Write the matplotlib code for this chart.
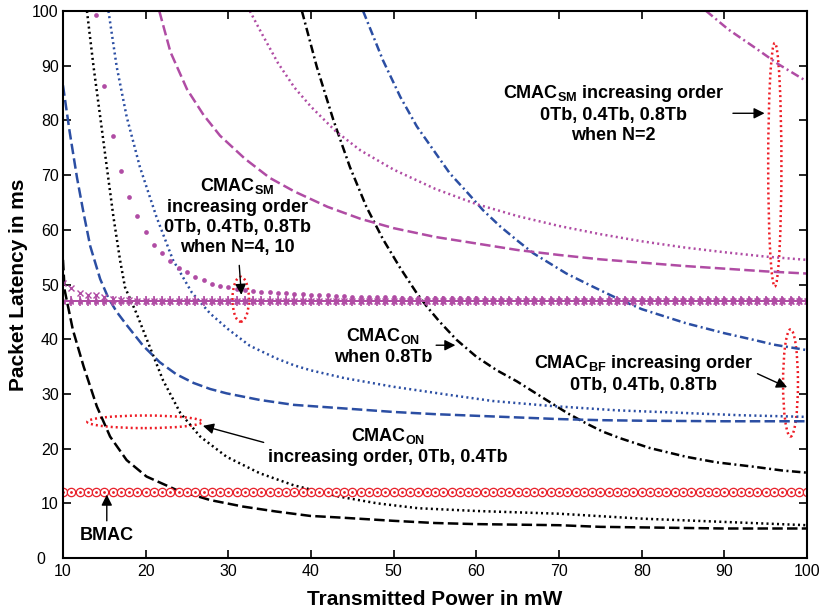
import matplotlib.pyplot as plt
from matplotlib.patches import Ellipse
from matplotlib.transforms import ScaledTranslation

plt.rcParams['font.family'] = ['Liberation Sans', 'DejaVu Sans']
plt.rcParams['mathtext.fontset'] = 'custom'
plt.rcParams['mathtext.rm'] = 'Liberation Sans'
plt.rcParams['mathtext.bf'] = 'Liberation Sans:bold'

MAG = '#b04ca4'
BLUE = '#2b4ea3'
RED = '#e8202a'

# every-unit grid used by the marker series
x_unit = list(range(10, 101))

# BMAC (flat)
bmac_y = [12.0] * len(x_unit)

# CMAC_SM N=4,10 series sitting on ~47
sm_flat_y = [47.0] * len(x_unit)
sm_x_y = [50.2, 49.3, 48.4, 48.1, 48.0, 47.7, 47.4, 47.2, 47.1] + [47.0] * (len(x_unit) - 9)
dots_x = list(range(14, 101))
dots_y = [99.3, 86.3, 77.2, 70.7, 66.0, 62.5, 59.6, 57.3, 55.7, 54.3,
          53.1, 52.2, 51.4, 50.8, 50.1, 49.7, 49.5, 49.2, 49.0, 48.9,
          48.7, 48.6, 48.5, 48.4, 48.3, 48.2, 48.1, 48.0, 48.0, 47.9,
          47.9, 47.8, 47.8, 47.8, 47.7, 47.7, 47.7, 47.6, 47.6, 47.6,
          47.6, 47.5, 47.5, 47.5, 47.5, 47.5, 47.5, 47.4, 47.4, 47.4,
          47.4, 47.4, 47.4, 47.4, 47.4, 47.4, 47.3, 47.3, 47.3, 47.3,
          47.3, 47.3, 47.3, 47.3, 47.3, 47.3, 47.3, 47.3, 47.3, 47.3,
          47.3, 47.3, 47.3, 47.3, 47.3, 47.3, 47.3, 47.3, 47.3, 47.3,
          47.3, 47.3, 47.3, 47.3, 47.3, 47.3, 47.3]

# CMAC_ON
on0_x = [10, 10.2, 11.2, 12.5, 14.1, 15.7, 17.7, 20.1, 23.8, 27.8, 31.8, 35.8, 39.9, 43.5,
         50, 55, 60, 65, 70, 75, 80, 90, 100]
on0_y = [54.5, 49, 41.7, 35, 27.7, 22.2, 17.9, 14.9, 12.4, 10.6, 9.4, 8.5, 7.7, 7.4,
         6.8, 6.4, 6.2, 6.1, 6.0, 5.7, 5.6, 5.4, 5.4]
on4_x = [12.9, 13.7, 14.5, 15.3, 16.1, 16.9, 17.5, 18.9, 20.5, 22.1, 24.2, 26.6, 29.8, 33.8,
         37.9, 43.5, 48, 53, 60, 70, 80, 90, 100]
on4_y = [100, 89.8, 80.7, 71.5, 62.4, 54.5, 49.5, 44.7, 38.6, 32.5, 26.5, 22.2, 18.5, 15.5,
         13.3, 11.2, 10.0, 9.1, 8.6, 8.1, 7.2, 6.6, 6.0]
on8_x = [38.9, 40.7, 42.7, 44.7, 46.7, 48.7, 50.8, 52.8, 54.0, 55.5, 57.6, 60, 62.5, 64.9, 67, 69.1,
         71, 73.3, 75.3, 77.4, 81, 85.4, 89, 93.5, 97, 100]
on8_y = [100, 89.8, 80.1, 71.5, 64.2, 58.3, 53.0, 48.4, 46.0, 43.3, 39.9, 36.8, 34.3, 32.3, 30.3, 28.3,
         26.5, 24.6, 23.1, 21.9, 20.1, 18.5, 17.5, 16.7, 16.0, 15.6]

# CMAC_BF
bf0_x = [10, 10.8, 11.7, 12.5, 13.3, 14.5, 15.5, 16.5, 17.7, 19.7, 21.7, 23.7, 25.8, 27.8, 29.8, 33.8,
         37.9, 43.5, 50, 55, 60, 65, 70, 75, 80, 90, 100]
bf0_y = [86.4, 78, 69.5, 63, 57, 51, 47.5, 45, 42.6, 38.8, 35.8, 33.6, 32, 30.9, 30.1, 28.9,
         28, 27.4, 26.7, 26.3, 26.0, 25.7, 25.4, 25.2, 25.1, 25.0, 25.0]
bf4_x = [15.5, 16.5, 17.7, 19.3, 21.3, 23.3, 25.6, 27.8, 30, 32.6, 35.8, 38, 40, 44, 50,
         56.8, 62, 69, 77, 85.4, 92, 100]
bf4_y = [100, 89.8, 80.7, 71.5, 62.4, 54.5, 48.5, 44.7, 41.8, 38.8, 36.5, 35.2, 34.3, 32.9, 31.3,
         29.8, 28.7, 27.8, 27.0, 26.5, 26.1, 25.8]
bf8_x = [46.3, 48.7, 50.8, 52.8, 54.8, 56.8, 58.8, 60.8, 62.9, 64.9, 66.9, 70.9, 74.1, 77.4,
         80, 85.4, 90, 93.5, 96, 100]
bf8_y = [100, 91, 84.3, 78.9, 74.6, 70.3, 67.0, 63.6, 60.6, 58.1, 55.7, 52, 49.6, 47.2,
         45.5, 42.9, 41.1, 39.9, 39.0, 38.0]

# CMAC_SM N=2
sm0_x = [21.65, 23, 25, 27, 29, 32, 35, 38, 42, 46, 50, 55, 60, 65, 70, 75, 80, 85, 90, 95, 100]
sm0_y = [100, 92.5, 85.7, 81, 77.2, 73, 69.5, 67, 64.2, 62, 60.3, 58.7, 57.5, 56.3, 55.4,
         54.6, 54, 53.4, 52.9, 52.4, 52.0]
sm4_x = [32.6, 34, 36, 38, 40, 43, 46, 50, 55, 60, 65, 70, 75, 80, 85, 90, 95, 100]
sm4_y = [100, 96, 90.5, 86, 82.5, 78, 74.5, 71, 67.5, 64.7, 62.5, 60.7, 59.2, 57.9, 56.8,
         55.9, 55.1, 54.5]
sm8_x = [87.8, 90.5, 93.5, 96.5, 100]
sm8_y = [100, 96.6, 93.5, 90.3, 87.1]

fig = plt.figure(figsize=(8.21, 6.10), dpi=100)
ax = fig.add_axes([0.0767, 0.0852, 0.9063, 0.8968])

dashdot = (0, (3.4, 1.4, 0.8, 1.4))
dash = (0, (4.2, 1.7))
dot = (0, (0.8, 1.3))
LW = 1.8

ax.plot(on0_x, on0_y, color='k', lw=LW, ls=dash)
ax.plot(on4_x, on4_y, color='k', lw=LW, ls=dot)
ax.plot(on8_x, on8_y, color='k', lw=LW, ls=dashdot)
ax.plot(bf0_x, bf0_y, color=BLUE, lw=LW, ls=dash)
ax.plot(bf4_x, bf4_y, color=BLUE, lw=LW, ls=dot)
ax.plot(bf8_x, bf8_y, color=BLUE, lw=LW, ls=dashdot)
ax.plot(sm0_x, sm0_y, color=MAG, lw=LW, ls=dash)
ax.plot(sm4_x, sm4_y, color=MAG, lw=LW, ls=dot)
ax.plot(sm8_x, sm8_y, color=MAG, lw=LW, ls=dashdot)

ax.plot(x_unit, sm_x_y, color=MAG, lw=0, marker='x', ms=4, mew=1)
ax.plot(dots_x, dots_y, color=MAG, lw=0, marker='o', ms=3.4, mew=0)
ax.plot(x_unit, sm_flat_y, color=MAG, lw=1.2, marker='+', ms=7.5, mew=1.2)
ax.plot(x_unit, sm_flat_y, color=MAG, lw=0, marker='*', ms=6, mew=0.5)

ax.plot(x_unit, bmac_y, color=RED, lw=0.8, marker='o', ms=6, mfc='white', mew=0.9)
ax.plot(x_unit, bmac_y, color=RED, lw=0, marker='.', ms=2)

# red dotted ellipses
for cx, cy, w, h in [(31.5, 47.3, 2.0, 8.2), (19.9, 24.9, 13.9, 2.3),
                     (96.1, 71.9, 1.6, 44.5), (98.0, 32.0, 1.8, 19.6)]:
    ax.add_patch(Ellipse((cx, cy), w, h, fill=False, ec='#ee1c25', lw=1.8, ls=(0, (0.8, 1.2))))

tkw = dict(fontsize=13, fontweight='bold', ha='center', va='center', linespacing=1.25)
akw = dict(arrowstyle='-|>', color='k', lw=1, mutation_scale=16)

ax.text(76.6, 81.3, 'CMAC$_{\\mathbf{SM}}$ increasing order\n0Tb, 0.4Tb, 0.8Tb\nwhen N=2', **tkw)
ax.annotate('', xy=(95.2, 81.3), xytext=(90.7, 81.3), arrowprops=akw)

ax.text(31.1, 62.5, 'CMAC$_{\\mathbf{SM}}$\nincreasing order\n0Tb, 0.4Tb, 0.8Tb\nwhen N=4, 10', **tkw)
ax.annotate('', xy=(31.6, 47.6), xytext=(31.3, 54.0), arrowprops=akw)

ax.text(48.7, 38.8, 'CMAC$_{\\mathbf{ON}}$\nwhen 0.8Tb', **tkw)
ax.annotate('', xy=(57.8, 38.9), xytext=(54.8, 38.9), arrowprops=akw)

ax.text(80.2, 33.8, 'CMAC$_{\\mathbf{BF}}$ increasing order\n0Tb, 0.4Tb, 0.8Tb', **tkw)
ax.annotate('', xy=(97.9, 31.0), xytext=(93.7, 33.9), arrowprops=akw)

ax.text(49.3, 20.5, 'CMAC$_{\\mathbf{ON}}$\nincreasing order, 0Tb, 0.4Tb', **tkw)
ax.annotate('', xy=(26.6, 24.3), xytext=(34.6, 21.0), arrowprops=akw)

ax.text(15.3, 4.2, 'BMAC', **tkw)
ax.annotate('', xy=(15.3, 12.1), xytext=(15.3, 6.3), arrowprops=akw)

ax.set_xlim(10, 100)
ax.set_ylim(0, 100)
ax.set_xticks(range(10, 101, 10))
ax.set_yticks(range(0, 101, 10))
ax.tick_params(direction='in', top=True, right=True, labelsize=11.5, length=6, width=1.2)
ax.tick_params(axis='x', pad=4)
ax.tick_params(axis='y', pad=3)
for s in ax.spines.values():
    s.set_linewidth(1.5)
ax.set_xlabel('Transmitted Power in mW', fontsize=15, fontweight='bold', labelpad=8)
ax.set_ylabel('Packet Latency in ms', fontsize=15, fontweight='bold', labelpad=3)

# the "0" on the y axis sits a bit further left, clear of the "10" below it
zero_lbl = ax.yaxis.get_major_ticks()[0].label1
zero_lbl.set_transform(zero_lbl.get_transform() + ScaledTranslation(-10 / 72, 0, fig.dpi_scale_trans))

fig.savefig('out.png', dpi=100)
